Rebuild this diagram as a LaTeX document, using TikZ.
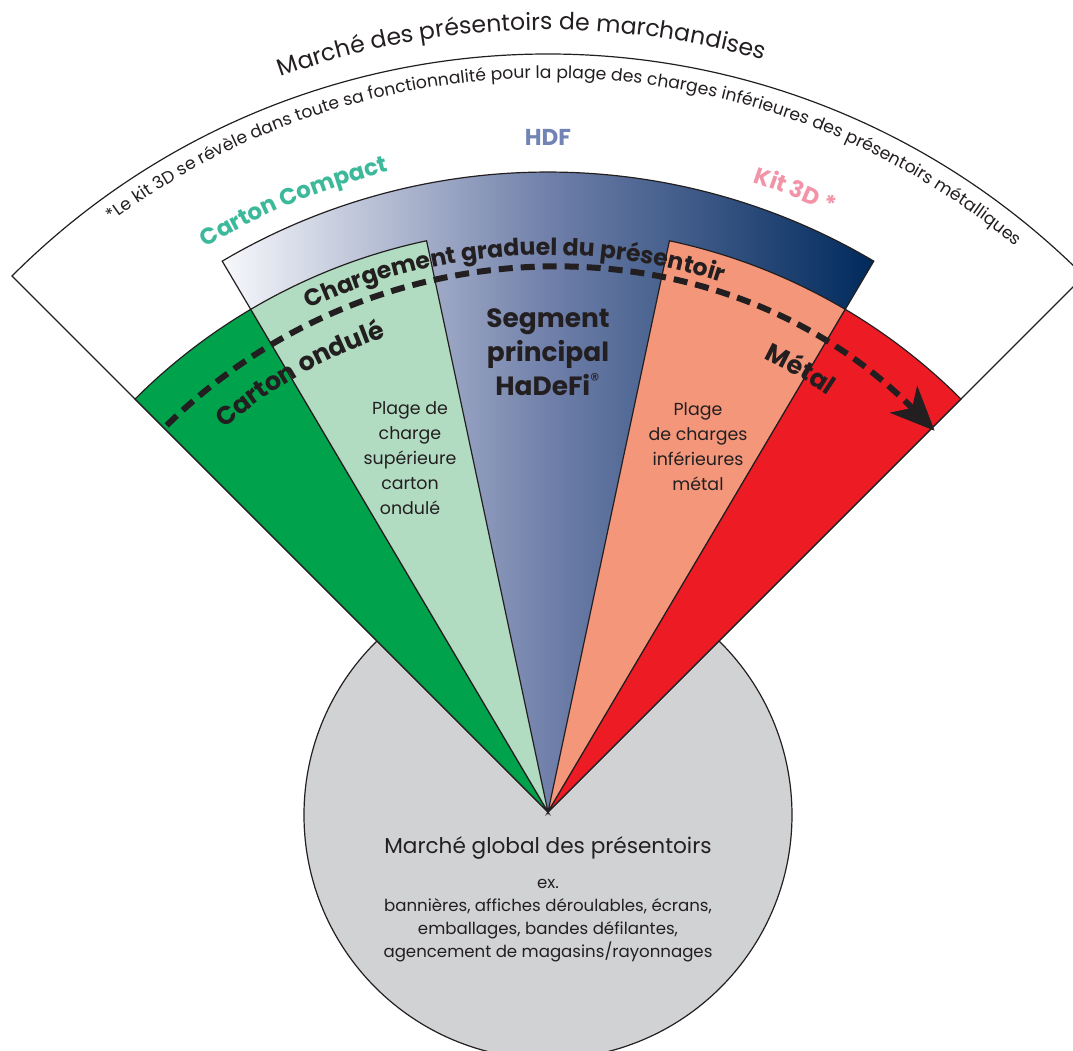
\documentclass[tikz,border=0pt]{standalone}
\usepackage{fontspec}
\setmainfont{Poppins}
\usetikzlibrary{positioning}
\usetikzlibrary{calc}
\usetikzlibrary{arrows.meta}
\usetikzlibrary{decorations.text}
\pgfdeclarelayer{nodelayer}
\pgfdeclarelayer{edgelayer}
\pgfsetlayers{edgelayer,nodelayer,main}
\definecolor{ink}{HTML}{231F20}
\definecolor{greendark}{HTML}{00A24B}
\definecolor{greenlight}{HTML}{B1DCC1}
\definecolor{salmon}{HTML}{F4967A}
\definecolor{redmetal}{HTML}{ED1C24}
\definecolor{globalgray}{HTML}{D1D2D4}
\definecolor{hdfwhite}{HTML}{F7F8FB}
\definecolor{hdfmid}{HTML}{7080AA}
\definecolor{hdfnavy}{HTML}{002A5C}
\definecolor{compactteal}{HTML}{3CB99B}
\definecolor{hdfblue}{HTML}{7184B5}
\definecolor{kitpink}{HTML}{F293A8}
\newcommand{\txtsize}[2]{\fontsize{#1}{#2}\selectfont}
\tikzstyle{none}=[inner sep=0pt]
\tikzstyle{sector}=[draw=ink, line width=0.6pt]
\tikzstyle{label}=[inner sep=0pt, align=center, text=ink]
\tikzset{curved/.style={decorate, decoration={text along path, text align=center, text={#1}}}}
\tikzset{flow/.style={draw=ink, line width=3pt, dash pattern=on 7pt off 4pt,
  -{Stealth[length=22pt, width=19pt, inset=6pt]}}}

\begin{document}
\begin{tikzpicture}[x=1pt, y=1pt]
	\useasboundingbox (-274,-119.5) rectangle (262.5,406);
	\begin{pgfonlayer}{edgelayer}
		\draw [style=sector, fill=globalgray] (0,-1.5) circle [radius=122pt];
		\draw [style=sector, fill=white] (0,0) -- (135:379) arc [start angle=135, end angle=45, radius=379pt] -- cycle;
		\draw [style=sector, left color=hdfwhite, right color=hdfnavy, middle color=hdfmid] (0,0) -- (120.6:320) arc [start angle=120.6, end angle=59.4, radius=320pt] -- cycle;
		\draw [style=sector, fill=greendark] (0,0) -- (135:292) arc [start angle=135, end angle=120.6, radius=292pt] -- cycle;
		\draw [style=sector, fill=greenlight] (0,0) -- (120.6:292) arc [start angle=120.6, end angle=102, radius=292pt] -- cycle;
		\draw [style=sector, fill=salmon] (0,0) -- (78:292) arc [start angle=78, end angle=59.4, radius=292pt] -- cycle;
		\draw [style=sector, fill=redmetal] (0,0) -- (59.4:292) arc [start angle=59.4, end angle=45, radius=292pt] -- cycle;
		% gradual loading
		\draw [style=flow] (134.6:271.5) arc [start angle=134.6, end angle=44.6, radius=271.5pt];
	\end{pgfonlayer}
	\begin{pgfonlayer}{nodelayer}
		\path [curved={|\txtsize{11.8}{12}\color{ink}|Marché des présentoirs de marchandises}] (152:391) arc [start angle=152, end angle=32, radius=391pt];
		\path [curved={|\txtsize{8.6}{9}\color{ink}|*Le kit 3D se révèle dans toute sa fonctionnalité pour la plage des charges inférieures des présentoirs métalliques}] (133.5:367) arc [start angle=133.5, end angle=43.5, radius=367pt];
		\path [curved={|\bfseries\txtsize{11.5}{12}\color{compactteal}|Carton Compact}] (142.6:330) arc [start angle=142.6, end angle=82.6, radius=330pt];
		\path [curved={|\bfseries\txtsize{11.5}{12}\color{kitpink}|Kit 3D *}] (98.3:331) arc [start angle=98.3, end angle=38.3, radius=331pt];
		\path [curved={|\bfseries\txtsize{11.8}{12}\color{ink}|Chargement graduel du présentoir}] (138.6:278.5) arc [start angle=138.6, end angle=48.6, radius=278.5pt];
		\path [curved={|\bfseries\txtsize{12.7}{13}\color{ink}|Carton ondulé}] (149.5:251) arc [start angle=149.5, end angle=89.5, radius=251pt];
		\path [curved={|\bfseries\txtsize{12.7}{13}\color{ink}|Métal}] (90.3:251) arc [start angle=90.3, end angle=30.3, radius=251pt];
		\node [style=label, font=\bfseries\txtsize{11.5}{12}, text=hdfblue] (0) at (0,337.5) {HDF};
		\node [style=label, font=\bfseries\txtsize{13.2}{17}] (1) at (0,230) {Segment\\principal\\HaDeFi\textsuperscript{\normalfont\textregistered}};
		\node [style=label, font=\txtsize{8.7}{12.5}] (2) at (-69,177) {Plage de\\charge\\supérieure\\carton\\ondulé};
		\node [style=label, font=\txtsize{8.7}{12.5}] (3) at (75,182.5) {Plage\\de charges\\inférieures\\métal};
		\node [style=label, font=\txtsize{10.8}{12}] (4) at (0,-18) {Marché global des présentoirs};
		\node [style=label, font=\txtsize{8.3}{11.5}] (5) at (0,-54.5) {ex.\\bannières, affiches déroulables, écrans,\\emballages, bandes défilantes,\\agencement de magasins/rayonnages};
	\end{pgfonlayer}
\end{tikzpicture}
\end{document}
